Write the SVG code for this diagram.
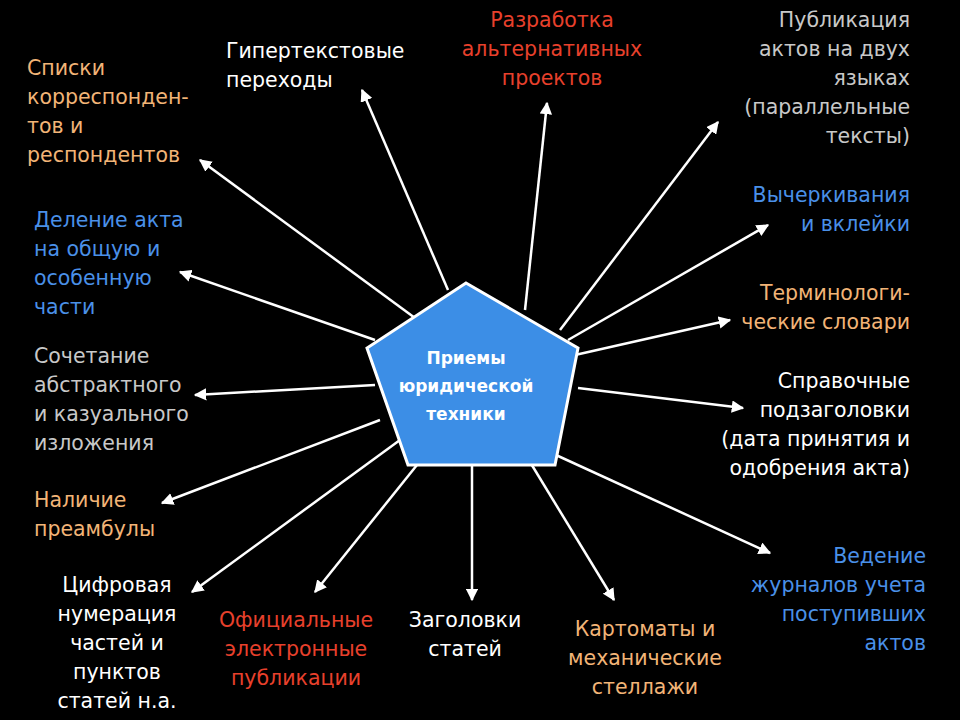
<svg xmlns="http://www.w3.org/2000/svg" width="960" height="720" viewBox="0 0 960 720">
<defs>
<style>
text{font-family:"DejaVu Sans","Liberation Sans",Arial,sans-serif;font-size:20.5px}
.o{fill:#f2b477}.r{fill:#e8402c}.b{fill:#4a90e8}.g{fill:#c8c8c8}.w{fill:#fff}
.m{text-anchor:middle}.e{text-anchor:end}
#conn line{stroke:#fff;stroke-width:2.5;marker-end:url(#a)}
</style>
<marker id="a" viewBox="0 0 10 10" refX="9" refY="5" markerWidth="5" markerHeight="5" orient="auto"><path d="M0,0L10,5L0,10z" fill="#fff"/></marker>
</defs>
<rect width="960" height="720" fill="#000"/>
<g id="conn">
<line x1="415" y1="318" x2="200" y2="160"/>
<line x1="448" y1="290" x2="362" y2="90"/>
<line x1="525" y1="310" x2="547" y2="103"/>
<line x1="560" y1="330" x2="718" y2="122"/>
<line x1="568" y1="340" x2="768" y2="225"/>
<line x1="575" y1="355" x2="730" y2="320"/>
<line x1="578" y1="388" x2="743" y2="408"/>
<line x1="545" y1="450" x2="770" y2="553"/>
<line x1="530" y1="462" x2="614" y2="600"/>
<line x1="472" y1="465" x2="472" y2="600"/>
<line x1="425" y1="455" x2="315" y2="592"/>
<line x1="400" y1="440" x2="192" y2="592"/>
<line x1="380" y1="420" x2="162" y2="503"/>
<line x1="375" y1="385" x2="195" y2="395"/>
<line x1="375" y1="340" x2="180" y2="272"/>
</g>
<g id="center">
<polygon points="466,283 578,348 555,465 408,465 367,348" fill="#3c8ee6" stroke="#fff" stroke-width="3"/>
<text class="w m" x="466" y="364" font-weight="bold" style="font-size:17px">Приемы</text>
<text class="w m" x="466" y="392" font-weight="bold" style="font-size:17px">юридической</text>
<text class="w m" x="466" y="420" font-weight="bold" style="font-size:17px">техники</text>
</g>
<g id="n1"><text class="o" x="27" y="75">Списки</text><text class="o" x="27" y="104">корреспонден-</text><text class="o" x="27" y="133">тов и</text><text class="o" x="27" y="162">респондентов</text></g>
<g id="n2"><text class="w" x="226" y="58">Гипертекстовые</text><text class="w" x="226" y="87">переходы</text></g>
<g id="n3"><text class="r m" x="552" y="27">Разработка</text><text class="r m" x="552" y="56">альтернативных</text><text class="r m" x="552" y="85">проектов</text></g>
<g id="n4"><text class="g e" x="910" y="27">Публикация</text><text class="g e" x="910" y="56">актов на двух</text><text class="g e" x="910" y="85">языках</text><text class="g e" x="910" y="114">(параллельные</text><text class="g e" x="910" y="143">тексты)</text></g>
<g id="n5"><text class="b e" x="910" y="202">Вычеркивания</text><text class="b e" x="910" y="231">и вклейки</text></g>
<g id="n6"><text class="o e" x="910" y="300">Терминологи-</text><text class="o e" x="910" y="329">ческие словари</text></g>
<g id="n7"><text class="w e" x="910" y="388">Справочные</text><text class="w e" x="910" y="417">подзаголовки</text><text class="w e" x="910" y="446">(дата принятия и</text><text class="w e" x="910" y="475">одобрения акта)</text></g>
<g id="n8"><text class="b e" x="926" y="563">Ведение</text><text class="b e" x="926" y="592">журналов учета</text><text class="b e" x="926" y="621">поступивших</text><text class="b e" x="926" y="650">актов</text></g>
<g id="n9"><text class="o m" x="645" y="636">Картоматы и</text><text class="o m" x="645" y="665">механические</text><text class="o m" x="645" y="694">стеллажи</text></g>
<g id="n10"><text class="w m" x="465" y="627">Заголовки</text><text class="w m" x="465" y="656">статей</text></g>
<g id="n11"><text class="r m" x="296" y="627">Официальные</text><text class="r m" x="296" y="656">электронные</text><text class="r m" x="296" y="685">публикации</text></g>
<g id="n12"><text class="w m" x="117" y="592">Цифровая</text><text class="w m" x="117" y="621">нумерация</text><text class="w m" x="117" y="650">частей и</text><text class="w m" x="117" y="679">пунктов</text><text class="w m" x="117" y="708">статей н.а.</text></g>
<g id="n13"><text class="o" x="34" y="507">Наличие</text><text class="o" x="34" y="536">преамбулы</text></g>
<g id="n14"><text class="g" x="34" y="363">Сочетание</text><text class="g" x="34" y="392">абстрактного</text><text class="g" x="34" y="421">и казуального</text><text class="g" x="34" y="450">изложения</text></g>
<g id="n15"><text class="b" x="34" y="227">Деление акта</text><text class="b" x="34" y="256">на общую и</text><text class="b" x="34" y="285">особенную</text><text class="b" x="34" y="314">части</text></g>
</svg>
